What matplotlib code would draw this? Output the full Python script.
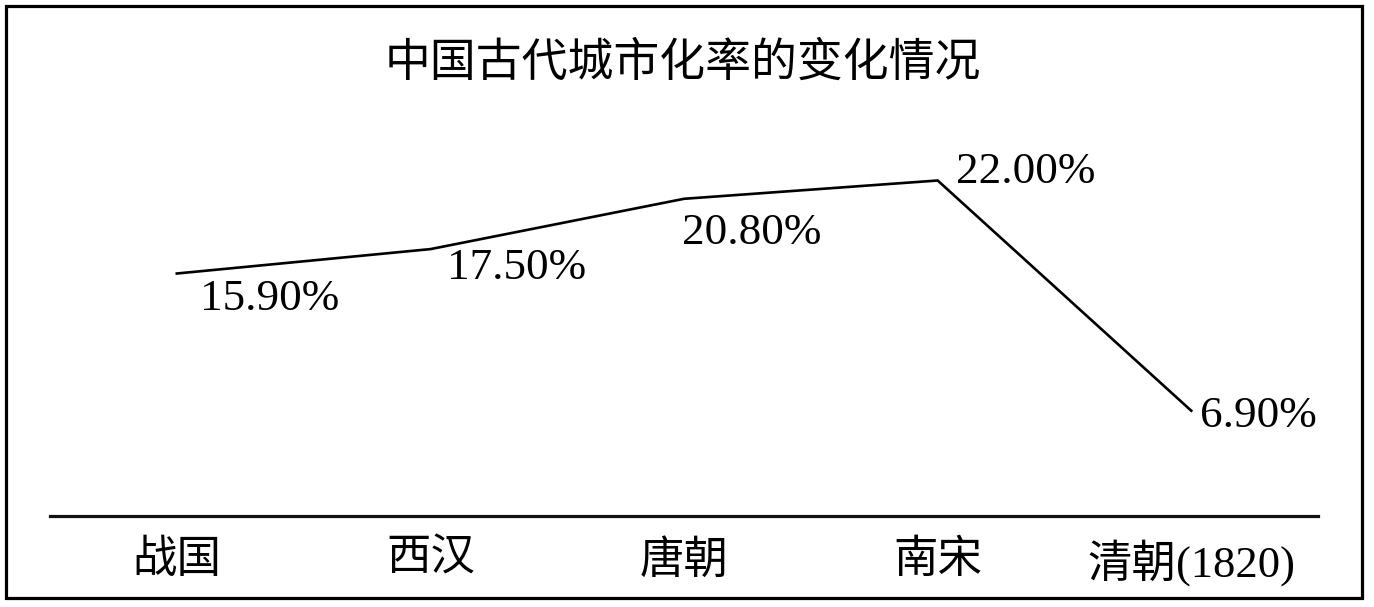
import matplotlib
matplotlib.use("Agg")
import matplotlib.pyplot as plt
from matplotlib.patches import Rectangle

plt.rcParams['font.family'] = ['Liberation Serif', 'Noto Sans CJK SC', 'DejaVu Sans']

# data
categories = ['战国', '西汉', '唐朝', '南宋', '清朝(1820)']
rates = [15.9, 17.5, 20.8, 22.0, 6.9]
labels = ['15.90%', '17.50%', '20.80%', '22.00%', '6.90%']
title = '中国古代城市化率的变化情况'

# label offsets from the point, in pixels
offsets = [(93, -25), (86, -19), (68, -34), (88, 8), (67, -5)]

fig = plt.figure(figsize=(13.74, 6.07), dpi=100)
ax = fig.add_axes([0.0364, 0.150, 0.9229, 0.628])

x = list(range(len(categories)))
ax.plot(x, rates, color='black', lw=1.9, solid_joinstyle='miter')

for i in x:
    ax.annotate(labels[i], (x[i], rates[i]), xytext=offsets[i],
                textcoords='offset pixels', ha='center', va='center',
                fontsize=32.5, family=['Liberation Serif'])

ax.set_xlim(-0.5, 4.5)
ax.set_ylim(0, 25)
for s in ['top', 'left', 'right']:
    ax.spines[s].set_visible(False)
ax.spines['bottom'].set_linewidth(2.3)
ax.spines['bottom'].set_color('#111111')
ax.set_yticks([])
ax.set_xticks(x)
ax.set_xticklabels(categories, fontsize=32)
ax.tick_params(axis='x', length=0, pad=17)

fig.text(0.497, 0.897, title, ha='center', va='center', fontsize=33,
         family=['Noto Sans CJK SC'])

fig.add_artist(Rectangle((0.0044, 0.0148), 0.9869, 0.9753, transform=fig.transFigure,
                         fill=False, edgecolor='black', lw=2.3))

fig.savefig('out.png', dpi=100, facecolor='white')
